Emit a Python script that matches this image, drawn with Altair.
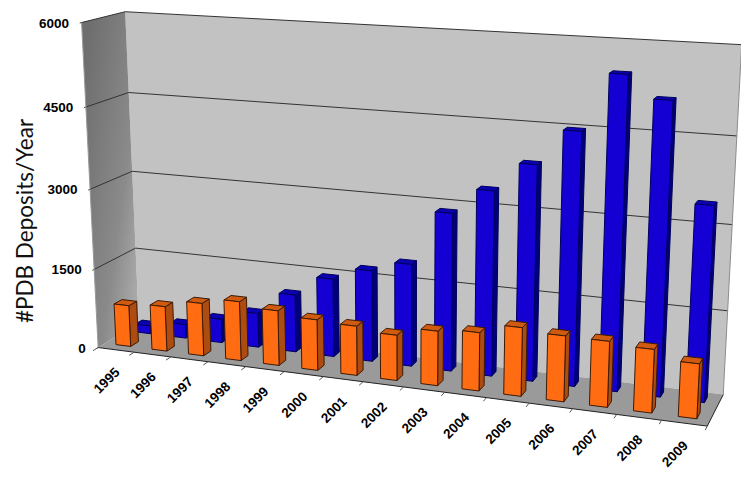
import numpy as np
import pandas as pd
import altair as alt

years = list(range(1995, 2010))
blue_values = [154, 265, 455, 649, 1085, 1465, 1697, 1891, 2885, 3348, 3863, 4490, 5490, 5110, 3420]
orange_values = [788, 851, 996, 1110, 1024, 941, 909, 830, 991, 1051, 1227, 1169, 1162, 1111, 953]
y_ticks = [0, 1500, 3000, 4500, 6000]

# camera calibration: (category, depth, value) -> picture position
cal_world = [(0,0,0),(0,0,1500),(0,0,3000),(0,0,4500),(0,0,6000),
             (0,1,0),(0,1,1500),(0,1,3000),(0,1,4500),(0,1,6000),
             (15,0,0),(15,1,0),(15,1,1500),(15,1,3000),(15,1,4500),(15,1,6000),
             (1,0,0),(2,0,0),(11,0,0),(12,0,0),(13,0,0),(14,0,0)]
cal_pict = [(98,347.5),(91.7,269.3),(90,189.3),(86.7,107.3),(81.7,22.7),
            (139,323),(135.7,248),(132.3,171.3),(128.7,92.3),(125,11.7),
            (707.3,426),(723,395),(727.7,310.7),(732.3,225),(736.7,136),(741.7,44.3),
            (135,352.3),(171.7,357),(529,403.1),(572,408.6),(616.7,414.3),(662,420.2)]

def fit():
    w0 = np.ones(len(cal_world))
    p = None
    for _ in range(25):
        A, b = [], []
        for (u, d, v), (x, y), s in zip(cal_world, cal_pict, w0):
            w = [u/15, d, v/6000, 1]
            A.append([t/s for t in w] + [0,0,0,0] + [-x*t/s for t in w[:3]]); b.append(x/s)
            A.append([0,0,0,0] + [t/s for t in w] + [-y*t/s for t in w[:3]]); b.append(y/s)
        p = np.linalg.lstsq(np.array(A), np.array(b), rcond=None)[0]
        w0 = np.array([p[8]*u/15 + p[9]*d + p[10]*v/6000 + 1 for (u, d, v) in cal_world])
    return np.append(p, 1).reshape(3, 4)
P = fit()

def proj(u, d, v):
    q = P @ np.array([u/15, d, v/6000, 1])
    return q[0]/q[2], q[1]/q[2]

lines = []
def poly(rows, name, corners, fill, stroke="transparent"):
    for k, c in enumerate(corners):
        x, y = proj(*c)
        rows.append(dict(poly=name, k=k, px=x, py=y, fill=fill, stroke=stroke))
def line(name, pts, color):
    for k, c in enumerate(pts):
        x, y = proj(*c)
        lines.append(dict(line=name, k=k, px=x, py=y, color=color))

walls, bars, leftwall = [], [], []
poly(walls, "back", [(0,1,0),(15,1,0),(15,1,6000),(0,1,6000)], "#c2c2c2")
poly(walls, "floor", [(0,0,0),(15,0,0),(15,1,0),(0,1,0)], "#9a9a9a")
poly(leftwall, "left", [(0,0,0),(0,1,0),(0,1,6000),(0,0,6000)], "#808080")

GRID = "#333333"
for t in y_ticks[1:]:
    line(f"g{t}", [(0,-0.04,t),(0,1,t),(15,1,t)], GRID)
line("edge", [(15,1,0),(15,1,6000)], "#8c8c8c")
line("ledge", [(0,0,0),(0,0,6000)], "#999999")
line("front", [(0,0,0),(15,0,0),(15,1,0)], "#222222")
line("g0", [(0,-0.04,0),(0,0,0)], "#555555")
for i in range(16):
    line(f"t{i}", [(i,0,0),(i,-0.12,0)], "#555555")

def bar(i, val, d0, d1, u0, u1, front, top, side, stroke, tag):
    u0, u1 = i+u0, i+u1
    poly(bars, f"{tag}{i}s", [(u1,d0,0),(u1,d1,0),(u1,d1,val),(u1,d0,val)], side, stroke)
    poly(bars, f"{tag}{i}t", [(u0,d0,val),(u1,d0,val),(u1,d1,val),(u0,d1,val)], top, stroke)
    poly(bars, f"{tag}{i}f", [(u0,d0,0),(u1,d0,0),(u1,d0,val),(u0,d0,val)], front, stroke)

for i, val in enumerate(blue_values):
    bar(i, val, 0.68, 0.85, 0.27, 0.69, "#1400d2", "#0c00b4", "#00007c", "#00005a", "b")
for i, val in enumerate(orange_values):
    bar(i, val, 0.17, 0.36, 0.30, 0.71, "#ff6c12", "#cf5a10", "#ad4c10", "#3c1a06", "o")

xlab = [dict(label=str(y), px=proj(i+0.5,0,0)[0], py=proj(i+0.5,0,0)[1]) for i, y in enumerate(years)]
ylab = [dict(label=str(t), px=proj(0,0,t)[0], py=proj(0,0,t)[1]) for t in y_ticks]

X = alt.X("px:Q", scale=alt.Scale(domain=[8, 741], nice=False, zero=False), axis=None)
Y = alt.Y("py:Q", scale=alt.Scale(domain=[470, 8], nice=False, zero=False), axis=None)

def face_layer(rows):
    return alt.Chart(alt.Data(values=rows)).mark_line(interpolate="linear-closed", strokeWidth=1).encode(
        x=X, y=Y, detail="poly:N", order="k:Q",
        fill=alt.Fill("fill:N", scale=None), stroke=alt.Stroke("stroke:N", scale=None))

left_layer = alt.Chart(alt.Data(values=leftwall)).mark_line(
    interpolate="linear-closed", strokeWidth=0,
    fill=alt.Gradient(gradient="linear", x1=0, y1=0.2, x2=1, y2=1,
                      stops=[alt.GradientStop(color="#6e6e6e", offset=0),
                             alt.GradientStop(color="#8a8a8a", offset=0.6),
                             alt.GradientStop(color="#b4b4b4", offset=1)])
).encode(x=X, y=Y, detail="poly:N", order="k:Q")

line_layer = alt.Chart(alt.Data(values=lines)).mark_line(strokeWidth=1).encode(
    x=X, y=Y, detail="line:N", order="k:Q", color=alt.Color("color:N", scale=None))

xt = alt.Chart(alt.Data(values=xlab)).mark_text(
    font="Liberation Sans", fontWeight="bold", fontSize=13.5, angle=315, dx=-28.3, dy=15.6, color="#000000"
).encode(x=X, y=Y, text="label:N")
yt = alt.Chart(alt.Data(values=ylab)).mark_text(
    font="Liberation Sans", fontWeight="bold", fontSize=13.5, align="right", dx=-12.5, dy=1, color="#000000"
).encode(x=X, y=Y, text="label:N")
title = alt.Chart(alt.Data(values=[dict(label="#PDB Deposits/Year", px=26, py=221)])).mark_text(
    font="Lato", fontSize=22.5, angle=270, color="#111111"
).encode(x=X, y=Y, text="label:N")

chart = alt.layer(face_layer(walls), left_layer, line_layer, face_layer(bars), xt, yt, title).properties(
    width=733, height=462, padding=0, autosize=alt.AutoSizeParams(type="none")
).configure_view(stroke=None)

chart.save("out.html", embed_options={"renderer": "svg", "actions": False})
